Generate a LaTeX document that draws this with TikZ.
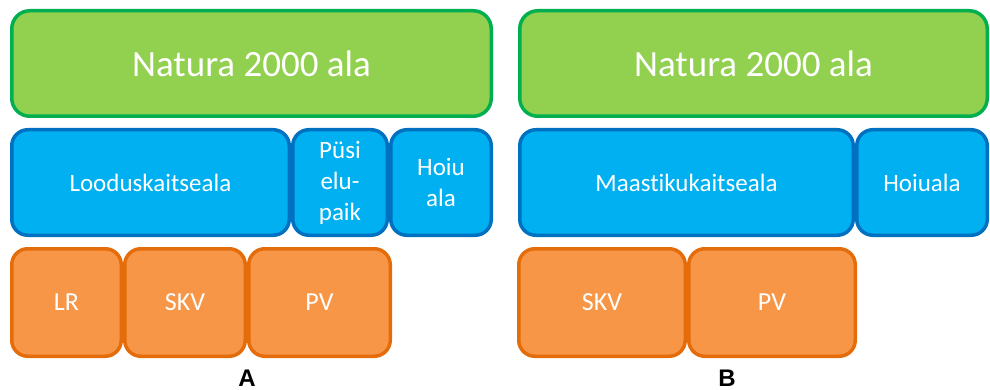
\documentclass[tikz,border=0pt]{standalone}
\usepackage{fontspec}
\setmainfont[Ligatures=NoCommon]{Carlito}
\newfontfamily\labelfont{Liberation Sans}
\definecolor{naturafill}{HTML}{92D050}
\definecolor{naturaline}{HTML}{00B050}
\definecolor{areafill}{HTML}{00B0F0}
\definecolor{arealine}{HTML}{0070C0}
\definecolor{planfill}{HTML}{F79646}
\definecolor{planline}{HTML}{E46C0A}

\begin{document}
\begin{tikzpicture}[x=1pt,y=-1pt,
  box/.style={rounded corners=16pt,line width=3.5pt,text=white,inner sep=0pt,align=center},
  natura/.style={box,fill=naturafill,draw=naturaline,rounded corners=18pt,
    minimum height=105.5pt,font=\fontsize{37}{44}\selectfont},
  area/.style={box,fill=areafill,draw=arealine,minimum height=105.5pt,
    font=\fontsize{25}{31}\selectfont},
  plan/.style={box,fill=planfill,draw=planline,minimum height=107.5pt,
    font=\fontsize{26}{31}\selectfont},
  caption/.style={font=\labelfont\bfseries\fontsize{24}{28}\selectfont}]
\useasboundingbox (0,0) rectangle (990,390);
% A
\node[natura,minimum width=479.5pt] (naturaA) at (251.5,63.5) {Natura 2000 ala};
\node[area,minimum width=277.5pt] (lka) at (150.5,182.5) {Looduskaitseala};
\node[area,minimum width=94.5pt] (pel) at (340,182.5) {Püsi\\elu-\\paik};
\node[area,minimum width=100.5pt] (hoiuA) at (441,182.5) {Hoiu\\ala};
\node[plan,minimum width=109.5pt] (lr) at (66.5,302.5) {LR};
\node[plan,minimum width=120.5pt] (skvA) at (185,302.5) {SKV};
\node[plan,minimum width=141.5pt] (pvA) at (319.5,302.5) {PV};
\node[caption] (capA) at (247,378) {A};
% B
\node[natura,minimum width=467.5pt] (naturaB) at (753.5,63.5) {Natura 2000 ala};
\node[area,minimum width=333.5pt] (mka) at (686.5,182.5) {Maastikukaitseala};
\node[area,minimum width=130.5pt] (hoiuB) at (922,182.5) {Hoiuala};
\node[plan,minimum width=166.5pt] (skvB) at (602,302.5) {SKV};
\node[plan,minimum width=166.5pt] (pvB) at (772,302.5) {PV};
\node[caption] (capB) at (727,378) {B};
\end{tikzpicture}
\end{document}
